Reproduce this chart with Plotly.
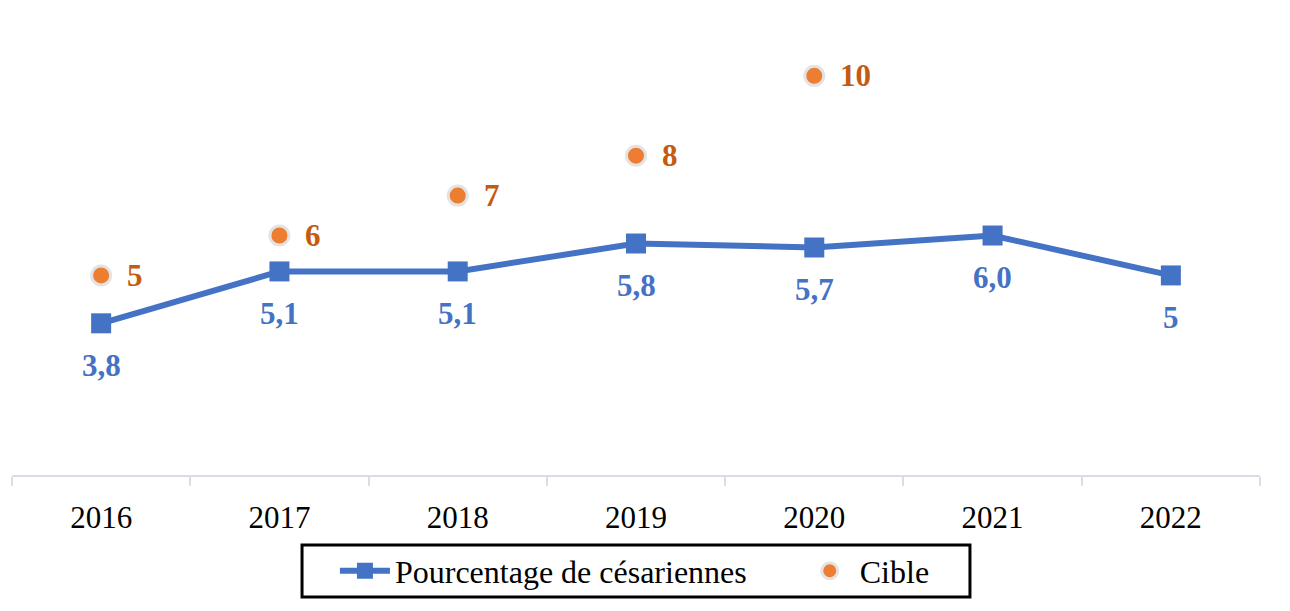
import plotly.graph_objects as go

years = ["2016", "2017", "2018", "2019", "2020", "2021", "2022"]
cesar = [3.8, 5.1, 5.1, 5.8, 5.7, 6.0, 5.0]
cesar_labels = ["3,8", "5,1", "5,1", "5,8", "5,7", "6,0", "5"]
target_years = ["2016", "2017", "2018", "2019", "2020"]
target = [5, 6, 7, 8, 10]
target_labels = ["5", "6", "7", "8", "10"]

BLUE = "#4472C4"
ORANGE = "#ED7D31"
ORANGE_TXT = "#C55A11"
FONT = "Liberation Serif"

fig = go.Figure()
fig.add_trace(go.Scatter(
    x=years, y=cesar, mode="lines+markers", name="Pourcentage de césariennes" + "\u00a0" * 6,
    line=dict(color=BLUE, width=6),
    marker=dict(symbol="square", size=20, color=BLUE),
))
fig.add_trace(go.Scatter(
    x=target_years, y=target, mode="markers", name="Cible",
    marker=dict(symbol="circle", size=19, color=ORANGE, line=dict(color="#E3E3E3", width=3)),
))

annotations = []
for x, y, t in zip(years, cesar, cesar_labels):
    annotations.append(dict(x=years.index(x), y=y, text=t, showarrow=False, yshift=-42,
                            font=dict(family=FONT, size=31, color=BLUE, weight="bold")))
for x, y, t in zip(target_years, target, target_labels):
    annotations.append(dict(x=years.index(x), y=y, text=t, showarrow=False, xanchor="left", xshift=24,
                            font=dict(family=FONT, size=31, color=ORANGE_TXT, weight="bold")))

fig.update_layout(
    width=1290, height=611,
    margin=dict(l=4, r=38, t=0, b=144),
    paper_bgcolor="white", plot_bgcolor="white",
    font=dict(family=FONT, size=31, color="black"),
    annotations=annotations,
    shapes=[dict(type="rect", xref="paper", yref="paper", x0=0.2324, x1=0.7676, y0=-0.2612, y1=-0.1499,
                 line=dict(color="black", width=3), fillcolor="rgba(0,0,0,0)", layer="above")],
    showlegend=True,
    legend=dict(orientation="h", xref="container", x=0.486, xanchor="center",
                yref="container", y=0.0786, yanchor="middle",
                borderwidth=0, bgcolor="rgba(0,0,0,0)", font=dict(family=FONT, size=32, color="black"),
                itemwidth=50, tracegroupgap=0),
    xaxis=dict(type="category", categoryorder="array", categoryarray=years, range=[-0.5, 6.5],
               tickson="boundaries", ticks="outside", ticklen=9, tickwidth=2, tickangle=0,
               tickcolor="#D9DEE6", showline=True, linecolor="#D9DEE6", linewidth=2,
               showgrid=False, zeroline=False, ticklabelstandoff=14,
               tickfont=dict(family=FONT, size=31, color="black")),
    yaxis=dict(range=[0, 11.7], visible=False, showgrid=False, zeroline=False),
)

fig.write_html("out.html")
